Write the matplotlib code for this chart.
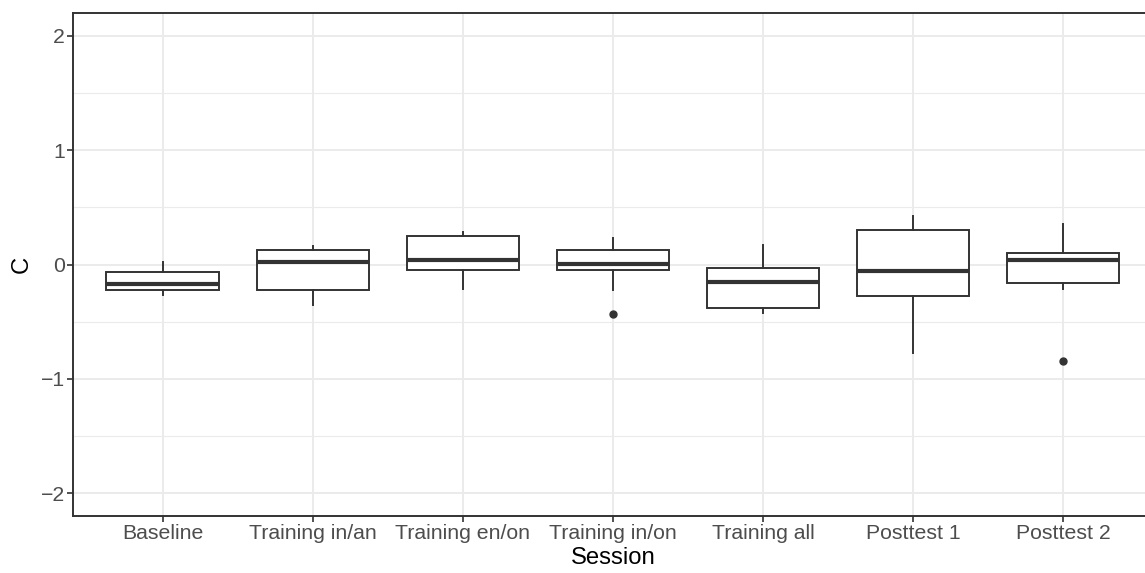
import numpy as np
import matplotlib
matplotlib.use("Agg")
import matplotlib.pyplot as plt

plt.rcParams['font.family'] = ['Liberation Sans', 'DejaVu Sans']

sessions = ['Baseline', 'Training in/an', 'Training en/on', 'Training in/on',
            'Training all', 'Posttest 1', 'Posttest 2']
medians = [-0.168, 0.020, 0.035, 0.006, -0.154, -0.058, 0.041]
q1 = [-0.221, -0.221, -0.050, -0.050, -0.378, -0.276, -0.166]
q3 = [-0.067, 0.125, 0.253, 0.128, -0.029, 0.305, 0.099]
whis_lo = [-0.270, -0.350, -0.212, -0.224, -0.421, -0.776, -0.212]
whis_hi = [0.023, 0.166, 0.285, 0.233, 0.168, 0.427, 0.357]
outliers = [[], [], [], [-0.436], [], [], [-0.848]]

dark = '#333333'
grid_col = '#ebebeb'

fig = plt.figure(figsize=(11.45, 5.73), dpi=100)
ax = fig.add_axes([72.7 / 1145, 1 - 516 / 573, (1153 - 72.7) / 1145, (516 - 13) / 573])

stats = []
for i in range(len(sessions)):
    stats.append(dict(med=medians[i], q1=q1[i], q3=q3[i],
                      whislo=whis_lo[i], whishi=whis_hi[i], fliers=outliers[i]))

pos = np.arange(1, len(sessions) + 1)
ax.bxp(stats, positions=pos, widths=0.75, showcaps=False, patch_artist=True,
       boxprops=dict(facecolor='white', edgecolor=dark, linewidth=1.4),
       whiskerprops=dict(color=dark, linewidth=1.4),
       medianprops=dict(color=dark, linewidth=3.0, solid_capstyle='butt'),
       flierprops=dict(marker='o', markerfacecolor=dark, markeredgecolor=dark, markersize=5),
       zorder=3)

ax.set_xlim(0.4, 7.6)
ax.set_ylim(-2.2, 2.2)
ax.set_xticks(pos)
ax.set_xticklabels(sessions)
ax.set_yticks([-2, -1, 0, 1, 2])
ax.set_yticklabels(['\u22122', '\u22121', '0', '1', '2'])
ax.set_yticks([-1.5, -0.5, 0.5, 1.5], minor=True)

ax.grid(True, which='major', color=grid_col, linewidth=1.4, zorder=0)
ax.grid(True, which='minor', axis='y', color=grid_col, linewidth=0.8, zorder=0)
ax.set_axisbelow(True)

for s in ax.spines.values():
    s.set_color(dark)
    s.set_linewidth(1.4)

ax.tick_params(axis='both', which='major', colors=dark, length=4, width=1.2,
               labelsize=15.3, labelcolor='#4d4d4d', pad=1.5)
ax.tick_params(axis='y', which='minor', length=0)

ax.set_xlabel('Session', fontsize=17.2, color='black')
ax.set_ylabel('C', fontsize=17.2, color='black')
ax.xaxis.set_label_coords(0.5, -0.0616)
ax.yaxis.set_label_coords(-0.0367, 0.5)

fig.savefig('out.png', dpi=100)
